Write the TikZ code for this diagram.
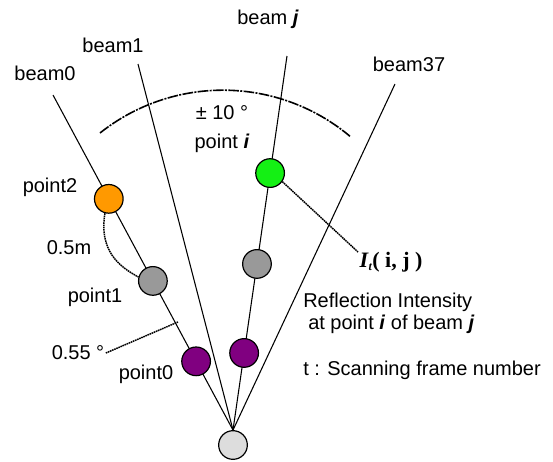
\documentclass[tikz,border=0pt]{standalone}
\usepackage{fontspec}
\setmainfont{Liberation Sans}
\newfontfamily\serifb{Liberation Serif}
\usetikzlibrary{calc}
\definecolor{orng}{RGB}{255,153,0}
\definecolor{grn}{RGB}{20,240,20}
\definecolor{prp}{RGB}{128,0,128}
\definecolor{gry}{RGB}{153,153,153}
\definecolor{lgry}{RGB}{221,221,221}
\begin{document}
\begin{tikzpicture}[x=0.75pt,y=-0.75pt,
  beamline/.style={line width=0.8pt},
  pt/.style={circle,draw=black,line width=0.9pt,minimum size=21.5pt,inner sep=0pt},
  lbl/.style={font=\fontsize{15}{17}\selectfont,inner sep=0pt},
  leader/.style={line width=1.1pt,dash pattern=on 1.2pt off 0.5pt},
  arcline/.style={line width=1.2pt,dash pattern=on 8pt off 1pt on 1.5pt off 1pt}]
\useasboundingbox (0,0) rectangle (553,461);
% origin and beam ends
\node[pt,fill=lgry] (o) at (233,445) {};
\coordinate (c) at (233,430);
\coordinate (b0) at (53,95);
\coordinate (b1) at (138,64);
\coordinate (bj) at (287,56);
\coordinate (b37) at (395,84);
\draw[beamline] (o.north) -- (b0);
\draw[beamline] (o.north) -- (b1);
\draw[beamline] (o.north) -- (bj);
\draw[beamline] (o.north) -- (b37);
% points
\node[pt,fill=orng] (p2) at ($(c)!0.69!(b0)$) {};
\node[pt,fill=gry]  (p1) at ($(c)!0.445!(b0)$) {};
\node[pt,fill=prp]  (p0) at ($(c)!0.205!(b0)$) {};
\node[pt,fill=grn]  (pi) at ($(c)!0.687!(bj)$) {};
\node[pt,fill=gry]  (q1) at ($(c)!0.444!(bj)$) {};
\node[pt,fill=prp]  (q0) at ($(c)!0.206!(bj)$) {};
% arc
\draw[arcline] (100,133) arc[start angle=-128.4,end angle=-50.1,radius=198];
% labels
\node[lbl] (lb0) at (45,73) {beam0};
\node[lbl] (lb1) at (113,45) {beam1};
\node[lbl] (lbj) at (268,19) {beam \textbf{\textit{j}}};
\node[lbl] (lb37) at (409,64) {beam37};
\node[lbl] (lpm) at (222,113) {± 10 °};
\node[lbl] (lpi) at (222,143) {point \textbf{\textit{i}}};
\node[lbl] (lp2) at (50,187) {point2};
\node[lbl] (l05) at (69,248) {0.5m};
\node[lbl] (lp1) at (95,297) {point1};
\node[lbl] (l055) at (78,353) {0.55 °};
\node[lbl] (lp0) at (146,374) {point0};
\node[inner sep=0pt,font=\serifb\bfseries\fontsize{16.5}{18}\selectfont] (it) at (391,262) {\textit{I}\raisebox{-0.35ex}{\fontsize{9}{10}\selectfont\textit{t}}( i, j )};
\node[lbl,anchor=west] (ri) at (303,302) {Reflection Intensity};
\node[lbl,anchor=west] (ap) at (308,324) {at point \textbf{\textit{i}} of beam \textbf{\textit{j}}};
\node[lbl,anchor=west] (tf) at (303,370) {t : Scanning frame number};
% leaders
\coordinate (e055) at (178,322);
\coordinate (eit) at (358,252);
\draw[leader] (p2.255) .. controls (99,250) and (118,266) .. (p1.165);
\draw[leader] ([xshift=1pt]l055.east) -- (e055);
\draw[leader] (pi.-35) -- (eit);
\end{tikzpicture}
\end{document}
